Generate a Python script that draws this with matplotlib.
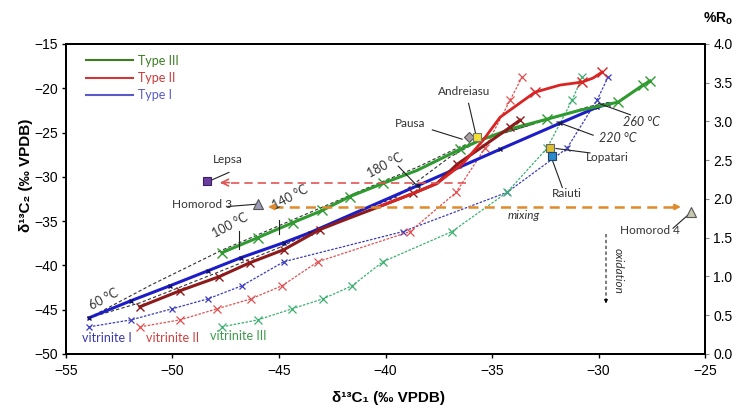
import matplotlib.pyplot as plt
from matplotlib.lines import Line2D

plt.rcParams['font.family'] = ['Liberation Sans', 'DejaVu Sans']
ann_font = ['Lato', 'DejaVu Sans']

# Type I kerogen model (blue)
type1_x = [-53.92, -51.95, -50.12, -48.33, -46.78, -44.77, -43.54, -38.47, -34.62, -31.81, -30.07, -29.55]
type1_y = [-45.92, -43.99, -42.30, -40.60, -39.12, -37.43, -36.29, -30.97, -26.89, -23.95, -22.14, -21.80]

# Type II kerogen model, early (dark red) and late (red) part
type2a_x = [-51.53, -49.65, -47.82, -46.36, -44.77, -43.08, -42.00, -40.40, -38.71, -37.58, -36.64, -35.42, -34.15, -33.69]
type2a_y = [-44.67, -42.86, -41.28, -39.69, -38.22, -35.95, -34.93, -33.46, -31.88, -30.74, -28.59, -26.55, -24.40, -23.61]
type2b_x = [-40.40, -38.71, -37.58, -36.36, -35.42, -34.62, -32.98, -31.81, -30.77, -30.26, -29.83]
type2b_y = [-33.46, -31.88, -30.74, -28.48, -25.87, -23.27, -20.44, -19.64, -19.30, -18.85, -18.17]

# Type III kerogen model (green)
type3_x = [-47.68, -45.99, -44.34, -42.98, -41.67, -40.12, -38.52, -36.50, -35.56, -34.01, -32.42, -30.87, -29.08, -27.91, -27.58]
type3_y = [-38.56, -36.86, -35.16, -33.80, -32.22, -30.74, -29.27, -26.89, -25.87, -24.51, -23.49, -22.48, -21.57, -19.64, -19.19]

# vitrinite reference series (same maturity steps)
vit_y = [-46.94, -46.15, -44.90, -43.77, -42.30, -39.58, -36.18, -31.76, -26.78, -21.34, -18.74]
vit1_x = [-53.92, -51.95, -50.02, -48.33, -46.74, -44.77, -39.18, -34.30, -31.48, -30.07, -29.55]
vit2_x = [-51.53, -49.65, -47.91, -46.31, -44.86, -43.17, -38.85, -36.69, -35.33, -34.15, -33.59]
vit3_x = [-47.68, -45.99, -44.39, -42.93, -41.57, -40.12, -36.88, -34.30, -32.42, -31.24, -30.77]

# isotherm envelopes (thin black dashed)
env_up_x = [-53.9, -51.0, -47.7, -44.5, -41.0, -38.5, -36.5, -33.0, -30.5, -29.5]
env_up_y = [-45.9, -42.2, -38.3, -35.0, -31.4, -28.9, -26.6, -24.0, -22.1, -21.6]
env_lo_x = [-53.9, -51.5, -48.0, -45.0, -42.0, -39.5, -37.0, -35.5, -33.0]
env_lo_y = [-45.9, -44.2, -40.9, -38.0, -34.6, -32.3, -27.8, -25.8, -24.0]

# gas samples
sample_names = ['Lepsa', 'Homorod 3', 'Homorod 4', 'Pausa', 'Andreiasu', 'Lopatari', 'Raiuti']
sample_x = [-48.4, -46.0, -25.65, -36.1, -35.7, -32.3, -32.2]
sample_y = [-30.5, -33.1, -34.0, -25.5, -25.5, -26.7, -27.6]

sample_style = {
    'Lepsa': dict(marker='s', ms=6, mfc='#6b3fa0', mec='#3a2060'),
    'Homorod 3': dict(marker='^', ms=7, mfc='#9c9cb8', mec='#555555'),
    'Homorod 4': dict(marker='^', ms=7, mfc='#c8c8b0', mec='#555555'),
    'Pausa': dict(marker='D', ms=5, mfc='#a8a0a0', mec='#555555'),
    'Andreiasu': dict(marker='s', ms=6, mfc='#f2e030', mec='#777777'),
    'Lopatari': dict(marker='s', ms=6, mfc='#dcc030', mec='#666666'),
    'Raiuti': dict(marker='s', ms=6, mfc='#2a8acc', mec='#224466'),
}

fig = plt.figure(figsize=(7.44, 4.08), dpi=100)
ax = fig.add_axes([0.0887, 0.1324, 0.8589, 0.7598])

dash_thin = (2, 1.2)
ax.plot(env_up_x, env_up_y, color='#333333', lw=0.8, dashes=(3, 2))
ax.plot(env_lo_x, env_lo_y, color='#333333', lw=0.8, dashes=(3, 2))
ax.plot(vit1_x, vit_y, color='#3c3cc0', lw=0.9, dashes=dash_thin, marker='x', ms=4, mew=0.9)
ax.plot(vit2_x, vit_y, color='#e05050', lw=0.9, dashes=dash_thin, marker='x', ms=6, mew=0.9)
ax.plot(vit3_x, vit_y, color='#3cb070', lw=0.9, dashes=dash_thin, marker='x', ms=6, mew=0.9)

ax.plot(type1_x, type1_y, color='#1d1dc8', lw=2.2, marker='x', ms=3.5, mew=1, mec='#101070')
ax.plot(type3_x, type3_y, color='#2f9a2f', lw=2.2, marker='x', ms=7, mew=1,
        markevery=[0, 1, 2, 3, 4, 5, 7, 10, 12, 13, 14])
ax.plot(type2a_x, type2a_y, color='#8e1b1b', lw=2.2, marker='x', ms=6, mew=1,
        markevery=[0, 1, 2, 3, 4, 5, 8, 10, 12, 13])
ax.plot(type2b_x, type2b_y, color='#d92424', lw=2.0, marker='x', ms=7, mew=1,
        markevery=[6, 8, 10])

# mixing / sample arrows
red_c = '#e05555'
ax.plot([-36.2, -47.7], [-30.65, -30.65], color=red_c, lw=1.2, dashes=(5, 3))
ax.annotate('', xy=(-47.9, -30.65), xytext=(-47.2, -30.65),
            arrowprops=dict(arrowstyle='->', color=red_c, lw=1.2, mutation_scale=12))
org_c = '#e08a2a'
ax.plot([-45.3, -26.3], [-33.4, -33.4], color=org_c, lw=1.8, dashes=(4, 2.5))
ax.annotate('', xy=(-45.65, -33.4), xytext=(-45.0, -33.4),
            arrowprops=dict(arrowstyle='-|>', color=org_c, lw=1.5, mutation_scale=8))
ax.annotate('', xy=(-26.0, -33.4), xytext=(-26.6, -33.4),
            arrowprops=dict(arrowstyle='-|>', color=org_c, lw=1.5, mutation_scale=8))
ax.plot([-29.65, -29.65], [-36.4, -43.8], color='#666666', lw=1.2, dashes=(2, 1.5))
ax.annotate('', xy=(-29.65, -44.3), xytext=(-29.65, -43.7),
            arrowprops=dict(arrowstyle='-|>', color='black', lw=0.8, mutation_scale=5))

for name, x, y in zip(sample_names, sample_x, sample_y):
    ax.plot(x, y, linestyle='none', mew=0.8, **sample_style[name], zorder=5)

# sample labels with leader lines
labels = [
    ('Andreiasu', (-36.3, -20.4), (-36.1, -21.7), (-35.75, -25.3)),
    ('Pausa', (-38.85, -23.95), (-37.8, -24.7), (-36.4, -25.75)),
    ('Lepsa', (-47.4, -28.0), (-47.35, -29.5), (-48.2, -30.4)),
    ('Homorod 3', (-48.6, -33.1), (-47.4, -33.35), (-46.1, -33.1)),
    ('Homorod 4', (-27.6, -36.1), (-26.5, -35.8), (-25.7, -34.1)),
    ('Lopatari', (-29.6, -27.8), (-32.0, -26.8), (-30.4, -27.3)),
    ('Raiuti', (-31.5, -31.9), (-32.2, -27.9), (-31.7, -31.2)),
]
for txt, pos, p0, p1 in labels:
    ax.plot([p0[0], p1[0]], [p0[1], p1[1]], color='#222222', lw=0.8)
    ax.text(pos[0], pos[1], txt, family=ann_font, fontsize=8.5, color='#333333',
            ha='center', va='center')

# temperature labels
temps = [('60 °C', (-53.2, -43.8)), ('100 °C', (-47.3, -35.5)),
         ('140 °C', (-44.5, -32.3)), ('180 °C', (-40.0, -28.7))]
for txt, pos in temps:
    ax.text(pos[0], pos[1], txt, family=ann_font, fontsize=9, color='#333333',
            ha='center', va='center', rotation=28)
ax.text(-29.1, -25.6, '220 °C', family=ann_font, fontsize=9, style='italic',
        color='#333333', ha='center', va='center')
ax.text(-28.0, -23.8, '260 °C', family=ann_font, fontsize=9, style='italic',
        color='#333333', ha='center', va='center')
for p0, p1 in [((-39.4, -28.8), (-38.4, -31.3)), ((-45.0, -34.9), (-45.0, -36.4)),
               ((-46.9, -36.1), (-46.9, -38.1)), ((-31.95, -23.8), (-30.25, -25.3)),
               ((-30.0, -21.7), (-28.5, -23.0))]:
    ax.plot([p0[0], p1[0]], [p0[1], p1[1]], color='#222222', lw=0.8)

ax.text(-33.5, -34.4, 'mixing', family=ann_font, fontsize=8.5, style='italic',
        color='#333333', ha='center', va='center')
ax.text(-29.1, -40.6, 'oxidation', family=ann_font, fontsize=8.5, style='italic',
        color='#333333', ha='center', va='center', rotation=-90)

ax.text(-53.1, -48.2, 'vitrinite I', family=ann_font, fontsize=9, color='#3a3ab0',
        ha='center', va='center')
ax.text(-50.0, -48.2, 'vitrinite II', family=ann_font, fontsize=9, color='#d04040',
        ha='center', va='center')
ax.text(-46.9, -48.0, 'vitrinite III', family=ann_font, fontsize=9, color='#3a9a4a',
        ha='center', va='center')

handles = [Line2D([], [], color='#3c7d22', lw=1.5),
           Line2D([], [], color='#d03838', lw=1.5),
           Line2D([], [], color='#5a5ac8', lw=1.5)]
ax.legend(handles, ['Type III', 'Type II', 'Type I'], loc='upper left',
          bbox_to_anchor=(0.032, 0.965), borderaxespad=0, borderpad=0,
          frameon=False, labelcolor='linecolor', handlelength=3.7,
          handletextpad=0.45, labelspacing=0.42,
          prop={'family': ann_font, 'size': 9})

ax.set_xlim(-55, -25)
ax.set_ylim(-50, -15)
ax.set_xticks(range(-55, -24, 5))
ax.set_yticks(range(-50, -14, 5))
ax.tick_params(labelsize=10, length=3, width=1, direction='out', pad=3)
ax.tick_params(axis='x', pad=4)
for s in ax.spines.values():
    s.set_linewidth(1.4)

ax.set_xlabel('δ¹³C₁ (‰ VPDB)', fontsize=11, fontweight='bold')
ax.xaxis.set_label_coords(0.505, -0.12)
ax.set_ylabel('δ¹³C₂ (‰ VPDB)', fontsize=11, fontweight='bold')
ax.yaxis.set_label_coords(-0.052, 0.577)

ax2 = ax.twinx()
ax2.set_position(ax.get_position())
ax2.set_ylim(0, 4)
ax2.set_yticks([i * 0.5 for i in range(9)])
ax2.set_yticklabels(['{:.1f}'.format(i * 0.5) for i in range(9)])
ax2.tick_params(labelsize=10, length=3, color='#888888', pad=3)
for s in ax2.spines.values():
    s.set_linewidth(1.4)
fig.text(0.965, 0.955, '%R$_\\mathregular{o}$', fontsize=10, fontweight='bold',
         ha='center', va='center')

fig.savefig('out.png', dpi=100)
